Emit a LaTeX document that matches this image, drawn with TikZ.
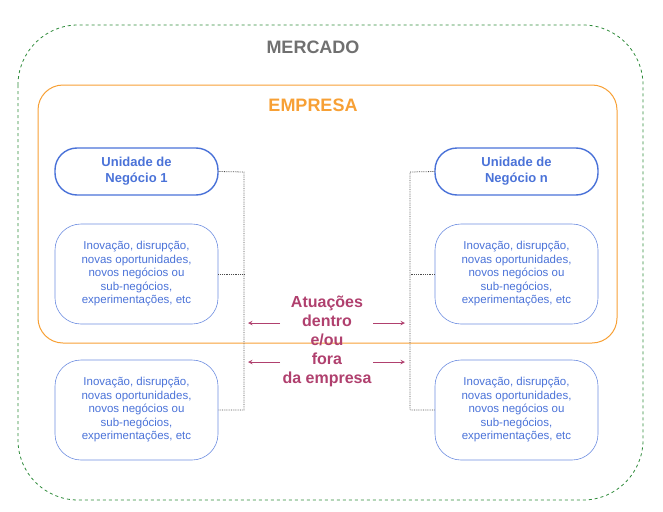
\documentclass[tikz,border=0pt]{standalone}
\usepackage{fontspec}
\setmainfont{Liberation Sans}
\usetikzlibrary{positioning}
\definecolor{mktgreen}{HTML}{2E8B3A}
\definecolor{emporange}{HTML}{F7A035}
\definecolor{unitblue}{HTML}{4A72D8}
\definecolor{actpurple}{HTML}{B0406E}
\definecolor{mktgray}{HTML}{707070}
\tikzset{
  unit/.style={draw=unitblue, line width=1.4pt, rounded corners=22pt, minimum width=163pt, minimum height=47pt, align=center, text=unitblue, font=\fontsize{13}{16}\selectfont\bfseries},
  idea/.style={draw=unitblue!80, line width=0.6pt, rounded corners=26pt, minimum width=163pt, minimum height=100pt, align=center, text=unitblue, font=\fontsize{11.5}{13.5}\selectfont},
  link/.style={densely dotted, line width=0.8pt, black!70},
  act/.style={->, actpurple, line width=1pt, >=stealth}
}
\begin{document}
\begin{tikzpicture}[x=1pt, y=-1pt]
  \useasboundingbox (0,0) rectangle (663,511);
  % Frames
  \draw[mktgreen, dashed, line width=0.8pt, rounded corners=60pt] (18,25) rectangle (643,500);
  \node[text=mktgray, font=\fontsize{18}{20}\selectfont\bfseries] (mercado) at (313,47) {MERCADO};
  \draw[emporange, line width=1pt, rounded corners=25pt] (38,85) rectangle (617,343);
  \node[text=emporange, font=\fontsize{18}{20}\selectfont\bfseries] (empresa) at (313,105) {EMPRESA};

  % Units and ideas
  \node[unit] (u1) at (136.5,171.5) {Unidade de\\Negócio 1};
  \node[unit] (un) at (516.5,171.5) {Unidade de\\Negócio n};
  \node[idea] (i1a) at (136.5,274) {Inovação, disrupção,\\novas oportunidades,\\novos negócios ou\\sub-negócios,\\experimentações, etc};
  \node[idea] (i1b) at (136.5,410) {Inovação, disrupção,\\novas oportunidades,\\novos negócios ou\\sub-negócios,\\experimentações, etc};
  \node[idea] (ina) at (516.5,274) {Inovação, disrupção,\\novas oportunidades,\\novos negócios ou\\sub-negócios,\\experimentações, etc};
  \node[idea] (inb) at (516.5,410) {Inovação, disrupção,\\novas oportunidades,\\novos negócios ou\\sub-negócios,\\experimentações, etc};

  % Dotted links
  \coordinate (lt) at (244,172);
  \coordinate (lb) at (244,410);
  \coordinate (rt) at (410,172);
  \coordinate (rb) at (410,410);
  \draw[link] (u1.east) -- (lt) -- (lb) -- (i1b.east);
  \draw[link] (i1a.east) -- (i1a.east -| lt);
  \draw[link] (un.west) -- (rt) -- (rb) -- (inb.west);
  \draw[link] (ina.west) -- (ina.west -| rt);

  % Center
  \node[text=actpurple, align=center, font=\fontsize{16}{19}\selectfont\bfseries] (act) at (327,341) {Atuações\\dentro\\e/ou\\fora\\da empresa};
  \coordinate (al1) at (248,323);
  \coordinate (al2) at (248,362);
  \coordinate (ar1) at (405,323);
  \coordinate (ar2) at (405,362);
  \draw[act] (280,323) -- (al1);
  \draw[act] (280,362) -- (al2);
  \draw[act] (373,323) -- (ar1);
  \draw[act] (373,362) -- (ar2);
\end{tikzpicture}
\end{document}
